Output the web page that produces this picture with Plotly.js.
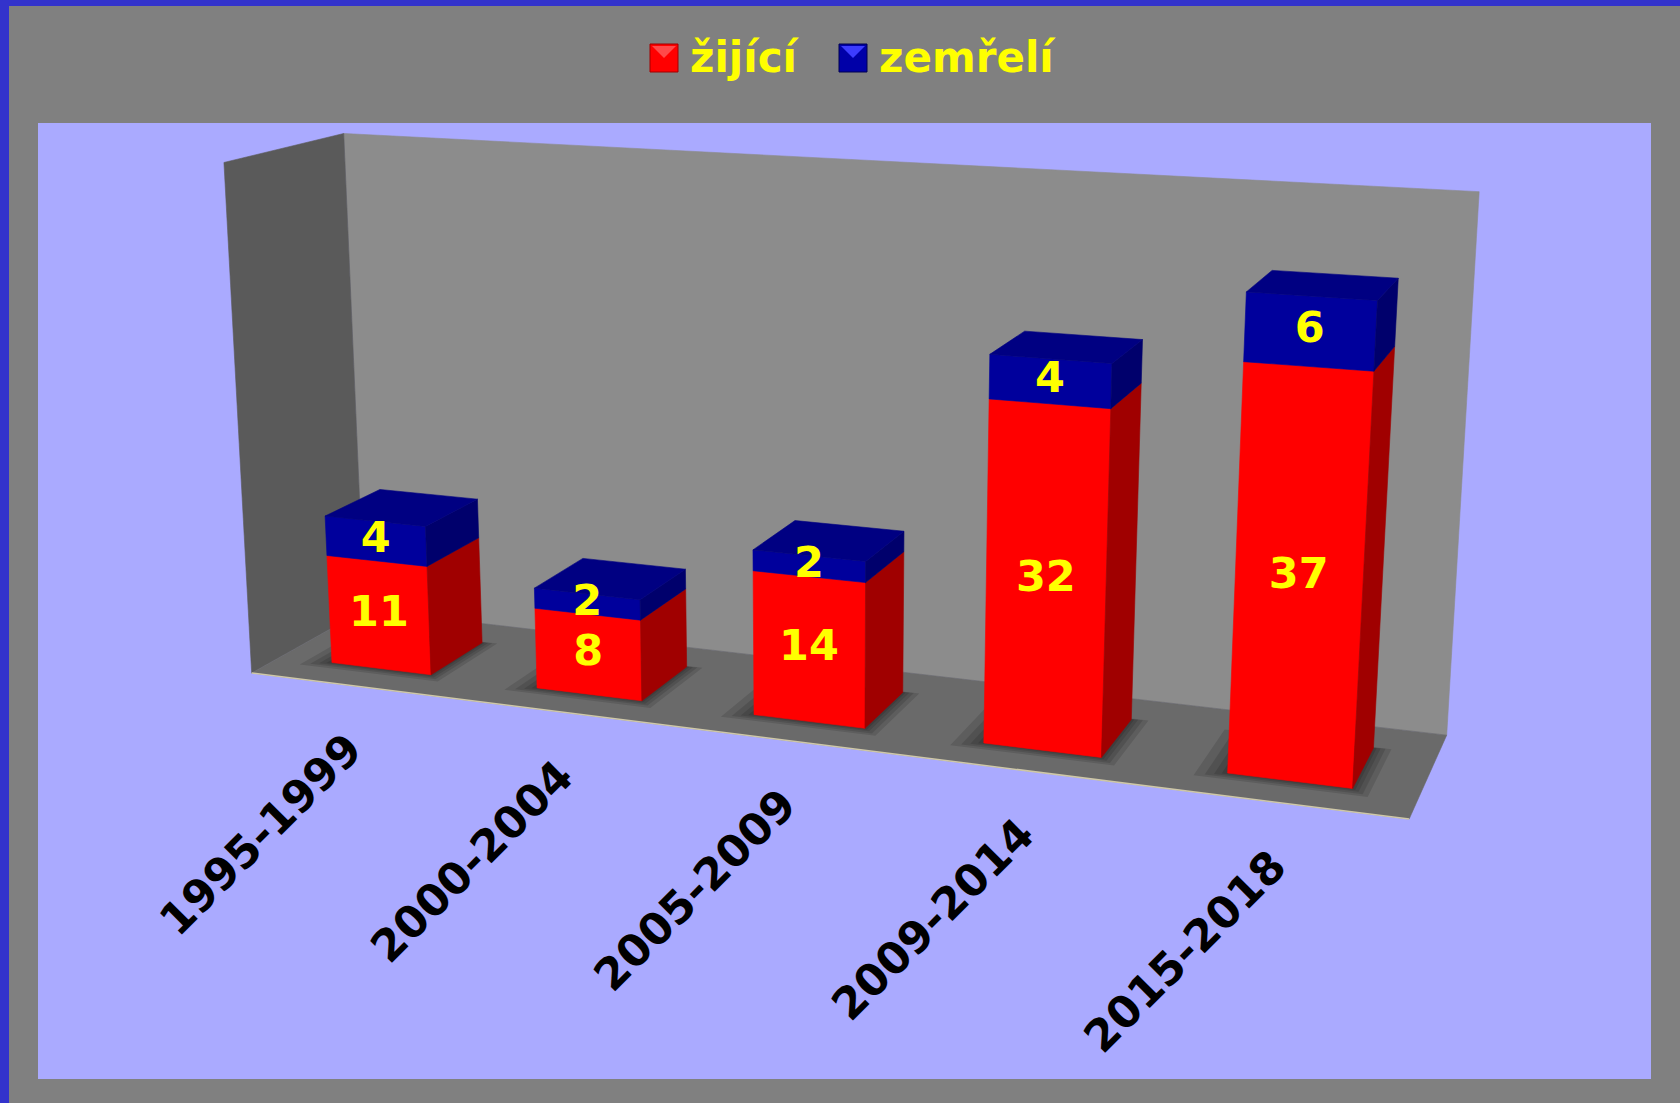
<!DOCTYPE html>
<html><head><meta charset="utf-8">
<script src="https://cdn.plot.ly/plotly-3.0.1.min.js"></script>
<style>
html,body{margin:0;padding:0;background:#3333cc;width:1680px;height:1103px;overflow:hidden;}
#chart{position:absolute;left:9px;top:6px;width:1671px;height:1097px;}
</style></head><body><div id="chart"></div>
<script>
// ---------------- data ----------------
const categories = ['1995-1999', '2000-2004', '2005-2009', '2009-2014', '2015-2018'];
const seriesNames = ['žijící', 'zemřelí'];
const alive = [11, 8, 14, 32, 37];     // žijící
const deceased = [4, 2, 2, 4, 6];      // zemřelí
const valueMax = 50;

// ---------------- geometry / style ----------------
const PLOT = {x0: 38, x1: 1651, y0: 123, y1: 1079};
// wall-box corner anchors used to fit a perspective projection [X,Y,Z] -> page px
const anchors = [
  [[0, 1, 0], [222.7, 162.7]],
  [[0, 1, 1], [345, 133]],
  [[1, 1, 1], [1479, 192]],
  [[0, 0, 0], [253, 671]],
  [[0, 0, 1], [363, 612]],
  [[1, 0, 1], [1447, 733]],
  [[1, 0, 0], [1409, 821]]
];
const barHalf = 0.049, zFront = 0.25, zBack = 0.74;
const COL = {
  backWall: '#8c8c8c', leftWall: '#5a5a5a', floor: '#6a6a6a',
  redFront: '#ff0000', redSide: '#a00000',
  blueFront: '#00009c', blueSide: '#00006c', blueTop: '#000082'
};
const FONT = 'DejaVu Sans, Verdana, sans-serif';

function fitProjection(pts) {
  const A = [], b = [];
  pts.forEach(([[X, Y, Z], [px, py]]) => {
    const x = px / 1000, y = py / 1000;
    A.push([X, Y, Z, 1, 0, 0, 0, 0, -x * X, -x * Y, -x * Z]); b.push(x);
    A.push([0, 0, 0, 0, X, Y, Z, 1, -y * X, -y * Y, -y * Z]); b.push(y);
  });
  const n = 11, N = [], r = [];
  for (let i = 0; i < n; i++) { N.push(new Array(n).fill(0)); r.push(0); }
  for (let k = 0; k < A.length; k++)
    for (let i = 0; i < n; i++) {
      r[i] += A[k][i] * b[k];
      for (let j = 0; j < n; j++) N[i][j] += A[k][i] * A[k][j];
    }
  for (let c = 0; c < n; c++) {
    let p = c;
    for (let i = c + 1; i < n; i++) if (Math.abs(N[i][c]) > Math.abs(N[p][c])) p = i;
    [N[c], N[p]] = [N[p], N[c]]; [r[c], r[p]] = [r[p], r[c]];
    for (let i = c + 1; i < n; i++) {
      const f = N[i][c] / N[c][c];
      for (let j = c; j < n; j++) N[i][j] -= f * N[c][j];
      r[i] -= f * r[c];
    }
  }
  const sol = new Array(n).fill(0);
  for (let i = n - 1; i >= 0; i--) {
    let s = r[i];
    for (let j = i + 1; j < n; j++) s -= N[i][j] * sol[j];
    sol[i] = s / N[i][i];
  }
  return sol;
}
const P = fitProjection(anchors);
function proj(X, Y, Z) {
  const w = P[8] * X + P[9] * Y + P[10] * Z + 1;
  return [1000 * (P[0] * X + P[1] * Y + P[2] * Z + P[3]) / w,
          1000 * (P[4] * X + P[5] * Y + P[6] * Z + P[7]) / w];
}
function polyTrace(color, name, opacity, lw) {
  return {type: 'scatter', mode: 'lines', x: [], y: [], fill: 'toself', fillcolor: color,
          line: {width: lw === undefined ? 0.6 : lw, color: color}, hoverinfo: 'skip', showlegend: false, name: name,
          opacity: opacity === undefined ? 1 : opacity};
}
function addPoly(tr, pts) {
  pts.concat([pts[0]]).forEach(p => { const q = proj(p[0], p[1], p[2]); tr.x.push(q[0]); tr.y.push(q[1]); });
  tr.x.push(null); tr.y.push(null);
}

// walls and floor
const leftWall = polyTrace(COL.leftWall, 'left wall');
addPoly(leftWall, [[0, 1, 0], [0, 1, 1], [0, 0, 1], [0, 0, 0]]);
const backWall = polyTrace(COL.backWall, 'back wall');
addPoly(backWall, [[0, 1, 1], [1, 1, 1], [1, 0, 1], [0, 0, 1]]);
const floor = polyTrace(COL.floor, 'floor');
addPoly(floor, [[0, 0, 0], [0, 0, 1], [1, 0, 1], [1, 0, 0]]);
const fe0 = proj(0, 0, 0), fe1 = proj(1, 0, 0);
const floorEdge = {type: 'scatter', mode: 'lines', x: [fe0[0], fe1[0]], y: [fe0[1], fe1[1]],
  line: {color: '#cfc8a8', width: 1.5}, hoverinfo: 'skip', showlegend: false};

// soft shadows (layered)
const shadowSpread = [0.04, 0.027, 0.016, 0.007];
const shadows = shadowSpread.map(() => polyTrace('#000000', 'shadow', 0.12, 0));
// bar faces
const redFront = polyTrace(COL.redFront, seriesNames[0]);
const redSide = polyTrace(COL.redSide, seriesNames[0]);
const blueFront = polyTrace(COL.blueFront, seriesNames[1]);
const blueSide = polyTrace(COL.blueSide, seriesNames[1]);
const blueTop = polyTrace(COL.blueTop, seriesNames[1]);

const lblAlive = {type: 'scatter', mode: 'text', x: [], y: [], text: [], hoverinfo: 'skip', showlegend: false,
  textposition: 'middle center', textfont: {family: FONT, size: 43, color: '#ffff00', weight: 'bold'}};
const lblDead = JSON.parse(JSON.stringify(lblAlive));

const annotations = [];
categories.forEach((cat, i) => {
  const xc = (i + 0.5) / categories.length, xa = xc - barHalf, xb = xc + barHalf;
  const y1 = alive[i] / valueMax, y2 = (alive[i] + deceased[i]) / valueMax;
  shadowSpread.forEach((s, k) => {
    addPoly(shadows[k], [[xa - s * 0.6, 0, zFront - s * 1.8], [xb + s * 0.35, 0, zFront - s * 1.8],
      [xb + s * 0.35, 0, zBack + s * 0.3], [xa - s * 0.6, 0, zBack + s * 0.3]]);
  });
  // red segment
  addPoly(redFront, [[xa, 0, zFront], [xb, 0, zFront], [xb, y1, zFront], [xa, y1, zFront]]);
  addPoly(redSide, [[xb, 0, zFront], [xb, 0, zBack], [xb, y1, zBack], [xb, y1, zFront]]);
  // blue segment
  addPoly(blueFront, [[xa, y1, zFront], [xb, y1, zFront], [xb, y2, zFront], [xa, y2, zFront]]);
  addPoly(blueSide, [[xb, y1, zFront], [xb, y1, zBack], [xb, y2, zBack], [xb, y2, zFront]]);
  addPoly(blueTop, [[xa, y2, zFront], [xb, y2, zFront], [xb, y2, zBack], [xa, y2, zBack]]);
  // value labels at front-face centres
  const c1 = proj(xc, y1 / 2, zFront), c2 = proj(xc, (y1 + y2) / 2, zFront);
  lblAlive.x.push(c1[0]); lblAlive.y.push(c1[1]); lblAlive.text.push(String(alive[i]));
  lblDead.x.push(c2[0]); lblDead.y.push(c2[1]); lblDead.text.push(String(deceased[i]));
  // category label
  const f = proj(xc, 0, 0);
  annotations.push({x: f[0] + 21, y: f[1] + 35, xref: 'x', yref: 'y', text: '<b>' + cat + '</b>',
    showarrow: false, textangle: -45, xanchor: 'right', yanchor: 'top',
    font: {family: FONT, size: 44, color: '#000000'}});
});

// custom legend (paper coordinates)
const W = PLOT.x1 - PLOT.x0, H = PLOT.y1 - PLOT.y0;
const px = v => (v - PLOT.x0) / W, py = v => (PLOT.y1 - v) / H;
const legendItems = [
  {name: seriesNames[0], sq: 650, txt: 688, fill: '#ff0000', light: '#ff4a4a', edge: '#a00000'},
  {name: seriesNames[1], sq: 839, txt: 877, fill: '#0000a8', light: '#3c3cff', edge: '#000050'}
];
const shapes = [];
legendItems.forEach(it => {
  shapes.push({type: 'rect', xref: 'paper', yref: 'paper', x0: px(it.sq), x1: px(it.sq + 28), y0: py(72), y1: py(44),
    fillcolor: it.fill, line: {color: it.edge, width: 1}});
  shapes.push({type: 'path', xref: 'paper', yref: 'paper',
    path: 'M' + px(it.sq + 2) + ',' + py(46) + ' L' + px(it.sq + 26) + ',' + py(46) + ' L' + px(it.sq + 14) + ',' + py(58) + ' Z',
    fillcolor: it.light, line: {width: 0}});
  annotations.push({x: px(it.txt), y: py(57), xref: 'paper', yref: 'paper', text: '<b>' + it.name + '</b>',
    showarrow: false, xanchor: 'left', yanchor: 'middle', font: {family: FONT, size: 42, color: '#ffff00'}});
});

const data = [backWall, leftWall, floor, floorEdge].concat(shadows).concat([
  redFront, redSide, blueFront, blueSide, blueTop, lblAlive, lblDead]);

const layout = {
  width: 1671, height: 1097,
  margin: {l: PLOT.x0 - 9, r: 1680 - PLOT.x1, t: PLOT.y0 - 6, b: 1103 - PLOT.y1, pad: 0},
  paper_bgcolor: '#808080', plot_bgcolor: '#aaaaff',
  xaxis: {range: [PLOT.x0, PLOT.x1], visible: false, fixedrange: true},
  yaxis: {range: [PLOT.y1, PLOT.y0], visible: false, fixedrange: true},
  showlegend: false, shapes: shapes, annotations: annotations
};
Plotly.newPlot('chart', data, layout, {staticPlot: true, displayModeBar: false});
</script></body></html>
